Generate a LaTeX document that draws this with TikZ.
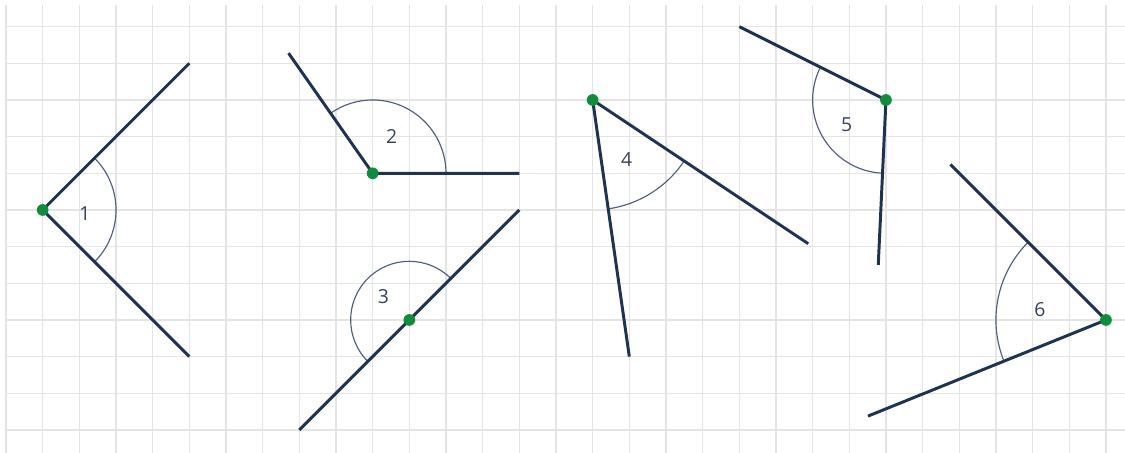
\documentclass[tikz,border=0pt]{standalone}
\usepackage{fontspec}
\setmainfont{Open Sans}
\usepackage{tikz}
\usetikzlibrary{angles, calc}
\definecolor{raynavy}{RGB}{30, 50, 82}
\definecolor{vertexgreen}{RGB}{16, 140, 60}
\definecolor{arcgray}{RGB}{80, 95, 125}
\definecolor{labelgray}{RGB}{55, 65, 90}
\definecolor{gridgray}{RGB}{228, 228, 228}

\tikzset{
    gridline/.style={gridgray, line width=1.1pt},
    ray/.style={raynavy, line width=2.3pt},
    anglearc/.style={draw=arcgray, line width=0.9pt},
    anglelabel/.style={labelgray, font=\fontsize{15}{17}\selectfont, inner sep=0pt}
}

\begin{document}
\begin{tikzpicture}[x=1cm, y=1cm]
    \useasboundingbox (-0.164, 0.373) rectangle (30.52, 12.727);
    % Quadrillage
    \foreach \x in {0,...,30} {
        \draw[gridline] (\x, 0.373) -- (\x, 12.59);
    }
    \foreach \y in {1,...,12} {
        \draw[gridline] (0, \y) -- (30.52, \y);
    }

    % Sommets et extremites des demi-droites
    \coordinate (V1) at (1, 7);   \coordinate (A1) at (5, 11);       \coordinate (B1) at (5, 3);
    \coordinate (V2) at (10, 8);  \coordinate (A2) at (14, 8);       \coordinate (B2) at ($(V2)+(125:4)$);
    \coordinate (V3) at (11, 4);  \coordinate (A3) at (14, 7);       \coordinate (B3) at (8, 1);
    \coordinate (V4) at (16, 10); \coordinate (A4) at (21.88, 6.08); \coordinate (B4) at (17, 3);
    \coordinate (V5) at (24, 10); \coordinate (A5) at (20, 12);      \coordinate (B5) at (23.79, 5.5);
    \coordinate (V6) at (30, 4);  \coordinate (A6) at ($(V6)+(135:6)$); \coordinate (B6) at ($(V6)+(202:7)$);

    % Arcs des angles
    \pic[anglearc, angle radius=2cm] {angle = B1--V1--A1};
    \pic[anglearc, angle radius=2cm] {angle = A2--V2--B2};
    \pic[anglearc, angle radius=1.6cm] {angle = A3--V3--B3};
    \pic[anglearc, angle radius=3cm] {angle = B4--V4--A4};
    \pic[anglearc, angle radius=2cm] {angle = A5--V5--B5};
    \pic[anglearc, angle radius=3cm] {angle = A6--V6--B6};

    % Demi-droites
    \draw[ray] (A1) -- (V1) -- (B1);
    \draw[ray] (A2) -- (V2) -- (B2);
    \draw[ray] (A3) -- (B3);
    \draw[ray] (A4) -- (V4) -- (B4);
    \draw[ray] (A5) -- (V5) -- (B5);
    \draw[ray] (A6) -- (V6) -- (B6);

    % Sommets
    \foreach \v in {V1, V2, V3, V4, V5, V6} {
        \fill[vertexgreen] (\v) circle (0.16);
    }

    % Numeros des angles
    \node[anglelabel] (n1) at (2.15, 6.9) {1};
    \node[anglelabel] (n2) at (10.52, 9.0) {2};
    \node[anglelabel] (n3) at (10.29, 4.64) {3};
    \node[anglelabel] (n4) at (16.93, 8.38) {4};
    \node[anglelabel] (n5) at (22.93, 9.32) {5};
    \node[anglelabel] (n6) at (28.2, 4.29) {6};
\end{tikzpicture}
\end{document}
